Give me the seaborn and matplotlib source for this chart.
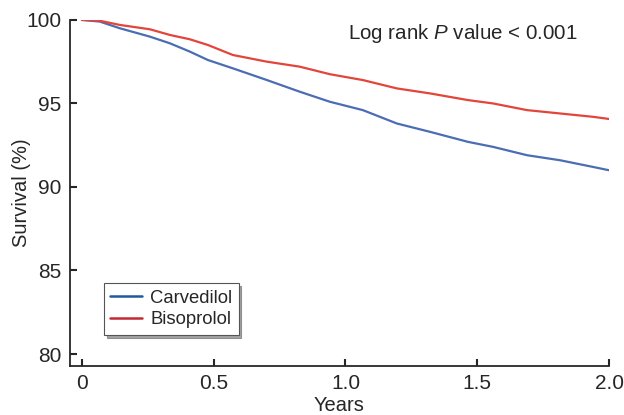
import numpy as np
import pandas as pd
import seaborn as sns
import matplotlib.pyplot as plt
from matplotlib.lines import Line2D

# values
years = [0, 0.068, 0.144, 0.258, 0.334, 0.410, 0.478, 0.573, 0.702, 0.827,
         0.941, 1.066, 1.195, 1.321, 1.465, 1.560, 1.689, 1.814, 1.939, 2.0]
carvedilol = [100, 99.9, 99.5, 99.0, 98.6, 98.1, 97.6, 97.1, 96.4, 95.7,
              95.1, 94.6, 93.8, 93.3, 92.7, 92.4, 91.9, 91.6, 91.2, 91.0]
bisoprolol = [100, 99.95, 99.7, 99.44, 99.1, 98.84, 98.5, 97.9, 97.5, 97.2,
              96.75, 96.4, 95.9, 95.6, 95.2, 95.0, 94.6, 94.4, 94.2, 94.07]
groups = ['Carvedilol', 'Bisoprolol']
curve_colors = {'Carvedilol': '#4a6db3', 'Bisoprolol': '#e2453a'}
legend_colors = ['#1f5a9c', '#c22a32']

df = pd.DataFrame({
    'Years': years * 2,
    'Survival': carvedilol + bisoprolol,
    'Group': ['Carvedilol'] * len(years) + ['Bisoprolol'] * len(years),
})

sns.set_style('ticks')
plt.rcParams['font.family'] = ['Liberation Sans', 'DejaVu Sans']
plt.rcParams['mathtext.fontset'] = 'custom'
plt.rcParams['mathtext.rm'] = 'Liberation Sans'
plt.rcParams['mathtext.it'] = 'Liberation Sans:italic'

fig = plt.figure(figsize=(6.24, 4.15), dpi=100)
ax = fig.add_axes([0.112, 0.118, 0.864, 0.834])

sns.lineplot(data=df, x='Years', y='Survival', hue='Group', palette=curve_colors,
             linewidth=1.6, ax=ax, legend=False)

ax.set_xlim(-0.0455, 2.0)
ax.set_ylim(79.28, 100)
ax.set_xticks([0, 0.5, 1.0, 1.5, 2.0])
ax.set_xticklabels(['0', '0.5', '1.0', '1.5', '2.0'])
ax.set_yticks([80, 85, 90, 95, 100])
ax.tick_params(direction='in', length=5, width=1.5, labelsize=15, pad=6)
for s in ['top', 'right']:
    ax.spines[s].set_visible(False)
for s in ['left', 'bottom']:
    ax.spines[s].set_linewidth(1.3)
ax.set_xlabel('Years', fontsize=14.5, labelpad=2)
ax.set_ylabel('Survival (%)', fontsize=14.5, labelpad=-3.5)

ax.text(0.729, 0.96, r'Log rank $P$ value < 0.001', transform=ax.transAxes,
        ha='center', va='center', fontsize=14.8)

handles = [Line2D([0], [0], color=c, lw=1.8) for c in legend_colors]
leg = ax.legend(handles, groups, loc='lower left', bbox_to_anchor=(0.063, 0.09),
                fontsize=13.3, frameon=True, fancybox=False, shadow=True,
                handlelength=1.7, borderpad=0.35, labelspacing=0.25,
                handletextpad=0.45, borderaxespad=0)
leg.get_frame().set_edgecolor('#555555')
leg.get_frame().set_linewidth(0.8)

fig.savefig('out.png', dpi=100)
